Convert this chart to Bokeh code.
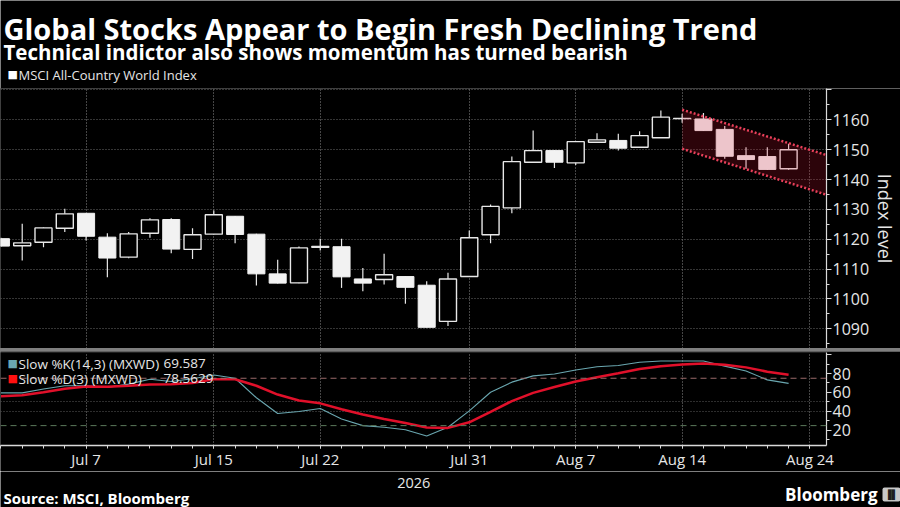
from bokeh.plotting import figure
from bokeh.models import Range1d, FixedTicker, Label, Grid, Span
from bokeh.layouts import column
from bokeh.embed import file_html
from bokeh.resources import INLINE

# ---------------- data ----------------
dates = ["2026-07-01", "2026-07-02", "2026-07-03", "2026-07-06", "2026-07-07", "2026-07-08",
         "2026-07-09", "2026-07-10", "2026-07-13", "2026-07-14", "2026-07-15", "2026-07-16",
         "2026-07-17", "2026-07-20", "2026-07-21", "2026-07-22", "2026-07-23", "2026-07-24",
         "2026-07-27", "2026-07-28", "2026-07-29", "2026-07-30", "2026-07-31", "2026-08-03",
         "2026-08-04", "2026-08-05", "2026-08-06", "2026-08-07", "2026-08-10", "2026-08-11",
         "2026-08-12", "2026-08-13", "2026-08-14", "2026-08-17", "2026-08-18", "2026-08-19",
         "2026-08-20", "2026-08-21"]
open_ = [1120.2, 1117.8, 1119.0, 1123.7, 1128.7, 1120.7, 1114.0, 1122.0, 1126.6, 1116.6,
         1121.7, 1127.7, 1121.7, 1108.4, 1105.4, 1117.3, 1117.5, 1106.7, 1106.5, 1107.5,
         1104.6, 1092.5, 1107.5, 1121.5, 1130.5, 1145.8, 1149.7, 1145.6, 1152.5, 1153.1,
         1150.8, 1154.0, 1160.4, 1160.3, 1156.8, 1148.0, 1147.7, 1143.6]
close = [1117.7, 1118.8, 1123.8, 1128.5, 1121.0, 1113.7, 1121.8, 1126.5, 1116.7, 1121.5,
         1128.2, 1121.6, 1108.4, 1105.3, 1117.1, 1117.6, 1107.4, 1105.3, 1108.1, 1103.9,
         1090.5, 1106.7, 1120.5, 1131.0, 1146.0, 1149.7, 1145.8, 1152.7, 1153.3, 1150.5,
         1154.7, 1160.9, 1160.5, 1156.4, 1147.8, 1146.7, 1143.4, 1150.0]
high = [1120.5, 1125.2, 1123.9, 1130.2, 1128.8, 1122.0, 1122.4, 1127.0, 1127.0, 1123.7,
        1129.6, 1127.8, 1121.8, 1113.1, 1117.6, 1120.2, 1120.2, 1110.4, 1115.1, 1107.6,
        1105.9, 1108.8, 1122.9, 1131.6, 1147.7, 1156.4, 1149.8, 1152.9, 1155.5, 1155.3,
        1156.2, 1163.1, 1162.0, 1162.3, 1157.9, 1150.8, 1150.8, 1152.0]
low = [1117.5, 1112.9, 1117.3, 1122.4, 1119.6, 1107.3, 1113.6, 1120.5, 1115.3, 1113.4,
       1121.6, 1118.7, 1104.5, 1105.2, 1105.3, 1116.2, 1103.7, 1102.6, 1104.8, 1098.4,
       1090.4, 1090.9, 1107.4, 1118.7, 1128.7, 1145.7, 1143.9, 1144.9, 1152.4, 1149.7,
       1150.7, 1153.9, 1159.0, 1156.3, 1147.0, 1143.6, 1143.2, 1143.3]

slow_k = [59.6, 59.6, 63.7, 67.1, 67.1, 65.4, 68.8, 74.0, 71.5, 74.5, 78.5, 75.0, 54.4, 37.8,
          39.9, 43.0, 31.9, 25.0, 23.3, 20.6, 14.0, 23.3, 40.5, 60.2, 70.9, 77.5, 79.5, 83.7,
          87.1, 88.5, 91.9, 93.3, 93.3, 93.3, 87.8, 82.6, 73.3, 69.6]
slow_d = [56.1, 57.1, 60.2, 64.0, 66.4, 66.1, 67.1, 68.5, 68.8, 69.9, 74.0, 74.0, 67.1, 57.8,
          51.6, 48.5, 42.3, 36.8, 31.9, 27.8, 23.0, 22.6, 28.5, 39.5, 50.9, 59.6, 65.7, 71.6,
          76.1, 80.2, 84.7, 87.8, 89.5, 90.6, 89.2, 86.5, 81.9, 78.6]

# declining channel (trading-day index, index level)
channel_x = [32, 38.78]
channel_upper = [1163.4, 1148.2]
channel_lower = [1150.3, 1134.9]

tick_idx = [4, 10, 15, 22, 27, 32, 38]
tick_labels = ["Jul 7", "Jul 15", "Jul 22", "Jul 31", "Aug 7", "Aug 14", "Aug 24"]
year_pos = [19.3]
year_label = ["2026"]
price_ticks = [1090, 1100, 1110, 1120, 1130, 1140, 1150, 1160, 1170]
stoch_ticks = [20, 40, 60, 80, 100]
overbought, oversold = 75, 25

title = "Global Stocks Appear to Begin Fresh Declining Trend"
subtitle = "Technical indictor also shows momentum has turned bearish"
source = "Source: MSCI, Bloomberg"

# ---------------- style ----------------
FONT = "Open Sans"
BG = "#000000"
AX = "#d9d9d9"
LBL = "#e6e6e6"
W = 900
RB = 70  # right border of the panels

x = list(range(len(dates)))
xr = Range1d(-0.02, 38.78)


def lab(p, text, sx, sy, size, color="#ffffff", bold=False, align="left",
        baseline="middle", font=FONT):
    p.add_layout(Label(x=sx, y=sy, x_units="screen", y_units="screen", text=text,
                       text_font=font, text_font_size=size, text_color=color,
                       text_font_style="bold" if bold else "normal",
                       text_align=align, text_baseline=baseline))


def blank(h):
    f = figure(width=W, height=h, x_range=Range1d(0, W), y_range=Range1d(0, h),
               output_backend="svg", toolbar_location=None, x_axis_location=None,
               y_axis_location=None, min_border=0, background_fill_color=BG,
               border_fill_color=BG, outline_line_color=None)
    f.grid.visible = False
    return f


def style_yaxis(ax, ticks, minor, overrides):
    ax.ticker = FixedTicker(ticks=ticks, minor_ticks=minor)
    ax.major_label_overrides = overrides
    ax.axis_line_color = AX
    ax.axis_line_width = 1.2
    ax.major_tick_line_color = AX
    ax.major_tick_out = 5
    ax.major_tick_in = 0
    ax.minor_tick_line_color = AX
    ax.minor_tick_out = 3
    ax.minor_tick_in = 0
    ax.major_label_text_color = LBL
    ax.major_label_text_font = FONT
    ax.major_label_text_font_size = "16px"
    ax.major_label_standoff = 1


# ---------------- header ----------------
head = blank(88)
lab(head, title, 3, 60, "29px", bold=True, baseline="alphabetic")
lab(head, subtitle, 3, 37, "20.5px", bold=True, baseline="alphabetic")
lab(head, "\u25a0", 7, 14, "11px", color="#ffffff", font="DejaVu Sans")
lab(head, "MSCI All-Country World Index", 18, 14, "13px", color="#e6e6e6")

# ---------------- top panel: candles ----------------
top = figure(width=W, height=260, x_range=xr, y_range=Range1d(1083.4, 1170.5),
             output_backend="svg", toolbar_location=None, x_axis_location=None,
             y_axis_location="right", min_border_left=0, min_border_right=RB,
             min_border_top=0, min_border_bottom=0, background_fill_color=BG,
             border_fill_color=BG, outline_line_color=None)
top.grid.visible = False
top.add_layout(Grid(dimension=0, ticker=FixedTicker(ticks=tick_idx),
                    grid_line_color="#8a8a8a", grid_line_dash="1 2", grid_line_width=1))
top.add_layout(Grid(dimension=1, ticker=FixedTicker(ticks=price_ticks),
                    grid_line_color="#6a6a6a", grid_line_dash="1 2", grid_line_width=1))
ya = top.yaxis[0]
style_yaxis(ya, price_ticks, [1085, 1095, 1105, 1115, 1125, 1135, 1145, 1155, 1165], {1170: ""})
ya.axis_label = "Index level"
ya.axis_label_text_font = FONT
ya.axis_label_text_font_size = "18px"
ya.axis_label_text_font_style = "normal"
ya.axis_label_text_color = LBL
ya.axis_label_standoff = 1

up = [i for i in x if close[i] >= open_[i]]
dn = [i for i in x if close[i] < open_[i]]
top.segment(x0=x, y0=low, x1=x, y1=high, line_color="#e8e8e8", line_width=1.2)
top.vbar(x=up, bottom=[open_[i] for i in up], top=[close[i] for i in up], width=0.8,
         fill_color=BG, line_color="#e8e8e8", line_width=1.4)
top.vbar(x=dn, bottom=[close[i] for i in dn], top=[open_[i] for i in dn], width=0.8,
         fill_color="#f2f2f2", line_color="#f2f2f2", line_width=1.0)

top.varea(x=channel_x, y1=channel_lower, y2=channel_upper, fill_color="#dc1432", fill_alpha=0.2)
top.line(channel_x, channel_upper, line_color="#e8405a", line_width=2.5, line_dash="2 2")
top.line(channel_x, channel_lower, line_color="#e8405a", line_width=2.5, line_dash="2 2")

# ---------------- bottom panel: stochastic ----------------
bot = figure(width=W, height=120, x_range=xr, y_range=Range1d(4.0, 102.2),
             output_backend="svg", toolbar_location=None, x_axis_location="below",
             y_axis_location="right", min_border_left=0, min_border_right=RB,
             min_border_top=1, min_border_bottom=24, background_fill_color=BG,
             border_fill_color=BG, outline_line_color=None)
bot.grid.visible = False
bot.add_layout(Grid(dimension=0, ticker=FixedTicker(ticks=tick_idx),
                    grid_line_color="#8a8a8a", grid_line_dash="1 2", grid_line_width=1))
bot.add_layout(Grid(dimension=1, ticker=FixedTicker(ticks=[40, 50]),
                    grid_line_color="#5a5a5a", grid_line_dash="1 2", grid_line_width=1))
style_yaxis(bot.yaxis[0], stoch_ticks, [10, 30, 50, 70, 90], {100: ""})

xa = bot.xaxis[0]
xa.ticker = FixedTicker(ticks=tick_idx, minor_ticks=x + [38])
xa.major_label_overrides = dict(zip(tick_idx, tick_labels))
xa.axis_line_color = AX
xa.axis_line_width = 1.5
xa.major_tick_line_color = AX
xa.major_tick_out = 3
xa.major_tick_in = 0
xa.minor_tick_line_color = AX
xa.minor_tick_out = 3
xa.minor_tick_in = 0
xa.major_label_text_color = LBL
xa.major_label_text_font = FONT
xa.major_label_text_font_size = "15px"
xa.major_label_standoff = 0

bot.add_layout(Span(location=overbought, dimension="width", line_color="#9a6a6a",
                    line_dash="6 4", line_width=1))
bot.add_layout(Span(location=oversold, dimension="width", line_color="#5c7a5c",
                    line_dash="6 4", line_width=1))
bot.line(x, slow_k, line_color="#6aa7b0", line_width=1.1)
bot.line(x, slow_d, line_color="#e0102a", line_width=2.5)

H2 = 95
lab(bot, "\u25a0", 7, H2 - 13, "11px", color="#6aa7b0", font="DejaVu Sans")
lab(bot, "Slow %K(14,3) (MXWD)", 18, H2 - 13, "13.5px", color="#e6e6e6")
lab(bot, "69.587", 163, H2 - 13, "13.5px", color="#e6e6e6")
lab(bot, "\u25a0", 7, H2 - 28, "11px", color="#ff1010", font="DejaVu Sans")
lab(bot, "Slow %D(3) (MXWD)", 18, H2 - 28, "13.5px", color="#e6e6e6")
lab(bot, "78.5629", 163, H2 - 28, "13.5px", color="#e6e6e6")

# ---------------- footer ----------------
foot = blank(36)
xscale_px = (W - RB) / (xr.end - xr.start)
lab(foot, year_label[0], (year_pos[0] - xr.start) * xscale_px, 25, "14.5px", color=LBL,
    align="center")
lab(foot, source, 3, 10, "15px", bold=True)
lab(foot, "Bloomberg", 877, 13, "17px", bold=True, align="right")
foot.add_layout(Label(x=882, y=13, x_units="screen", y_units="screen", text="\u2590\u258c",
                      text_font="DejaVu Sans", text_font_size="9px", text_color="#202020",
                      text_baseline="middle", background_fill_color="#c8c8c8",
                      padding=2, border_radius=2))

panels = column(top, bot, spacing=3, styles={"background-color": "#7f7f7f"})
layout = column(head, panels, foot)

open("out.html", "w").write(file_html(layout, INLINE))
